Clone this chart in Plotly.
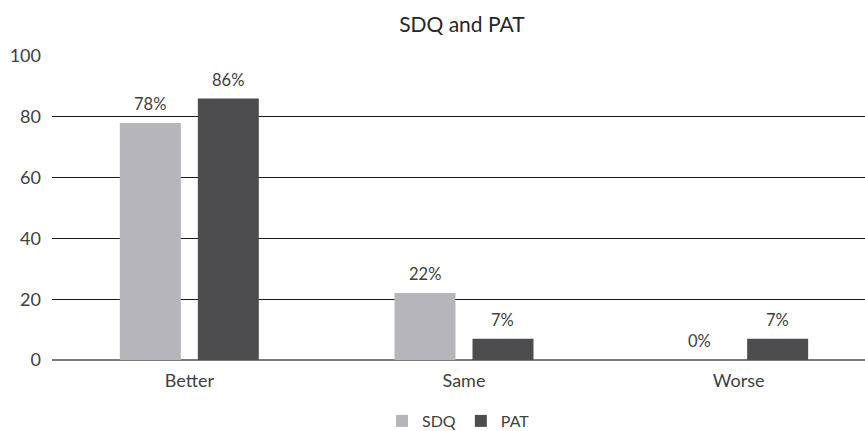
import plotly.graph_objects as go

categories = ["Better", "Same", "Worse"]
sdq = [78, 22, 0]
pat = [86, 7, 7]
y_ticks = [0, 20, 40, 60, 80, 100]

font_family = "Lato, 'Open Sans', sans-serif"
text_color = "#404040"
sdq_color = "#b6b6ba"
pat_color = "#4d4d4f"

fig = go.Figure()
fig.add_trace(go.Bar(name="SDQ", x=categories, y=sdq,
                     marker=dict(color=sdq_color, line=dict(width=0))))
fig.add_trace(go.Bar(name="PAT", x=categories, y=pat,
                     marker=dict(color=pat_color, line=dict(width=0))))

# value labels sit a little above each bar
for values, shift in ((sdq, -39), (pat, 39)):
    for cat, v in zip(categories, values):
        fig.add_annotation(x=cat, y=v, text=f"{v}%", showarrow=False,
                           xshift=shift, yshift=7, yanchor="bottom",
                           font=dict(size=16.5, color=text_color, family=font_family))

fig.update_layout(
    width=865, height=431,
    margin=dict(l=52, r=0, t=56, b=71, autoexpand=False),
    paper_bgcolor="white", plot_bgcolor="white",
    font=dict(family=font_family, color=text_color, size=17),
    barmode="group", bargap=0.432, bargroupgap=0.218,
    title=dict(text="SDQ and PAT", x=0.534, xanchor="center", y=0.942, yanchor="middle",
               font=dict(size=21, color="#262626")),
    showlegend=True,
    legend=dict(orientation="h", x=0.5, xanchor="center", yref="container",
                y=10 / 431, yanchor="middle",
                font=dict(size=16, color=text_color), traceorder="normal"),
    xaxis=dict(range=[-0.5, 2.46], showgrid=False, showline=False, ticks="",
               automargin=False, ticklabelstandoff=8,
               tickfont=dict(size=18, color=text_color)),
    yaxis=dict(range=[0, 100], tickvals=y_ticks, showgrid=True, gridcolor="#1a1a1a",
               gridwidth=1, zeroline=True, zerolinecolor="#7a7a7a", zerolinewidth=2,
               showline=False, ticks="", ticklabelstandoff=10, automargin=False,
               tickfont=dict(size=18, color=text_color)),
)

fig.write_html("out.html")
